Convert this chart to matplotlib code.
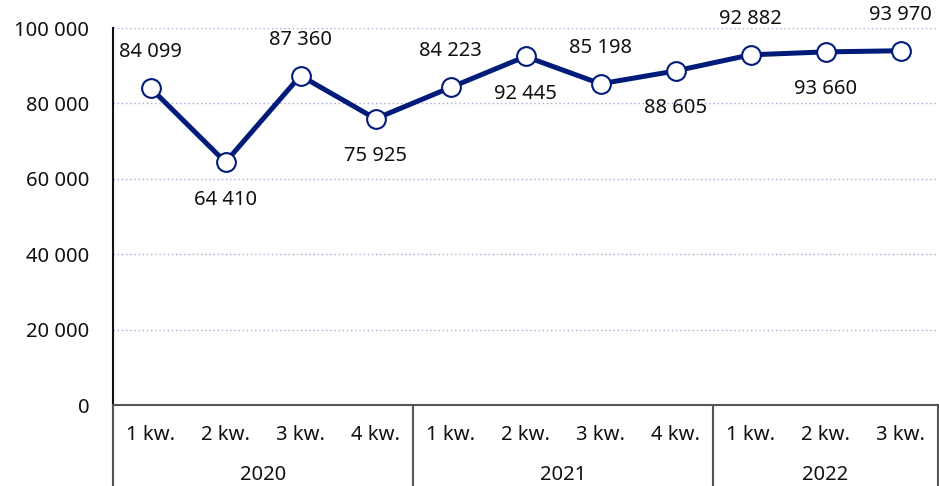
import matplotlib
matplotlib.use("Agg")
import matplotlib.pyplot as plt
from matplotlib.ticker import FuncFormatter

plt.rcParams["font.family"] = ["Noto Sans", "DejaVu Sans"]

quarters = ["1 kw.", "2 kw.", "3 kw.", "4 kw.",
            "1 kw.", "2 kw.", "3 kw.", "4 kw.",
            "1 kw.", "2 kw.", "3 kw."]
years = ["2020", "2021", "2022"]
quarters_per_year = [4, 4, 3]
values = [84099, 64410, 87360, 75925, 84223, 92445, 85198, 88605, 92882, 93660, 93970]
y_ticks = [0, 20000, 40000, 60000, 80000, 100000]

LINE_COLOR = "#001b7a"
AXIS_COLOR = "#555555"
FS = 14.5


def fmt_space(v, _pos=None):
    return f"{int(round(v)):,}".replace(",", " ")


fig = plt.figure(figsize=(9.39, 4.86), dpi=100)
ax = fig.add_axes([113 / 939, 81 / 486, 825 / 939, 377 / 486])

xs = list(range(len(values)))
ax.plot(xs, values, color=LINE_COLOR, linewidth=3.6, zorder=3,
        marker="o", markersize=13.5, markerfacecolor="white",
        markeredgecolor=LINE_COLOR, markeredgewidth=1.5, clip_on=False)

# data labels alternate above / below
for i, (x, v) in enumerate(zip(xs, values)):
    dy = 26 if i % 2 == 0 else -27
    ax.annotate(fmt_space(v), (x, v), xytext=(0, dy), textcoords="offset points",
                ha="center", va="center", fontsize=FS, color="#111111",
                annotation_clip=False)

ax.set_xlim(-0.5, len(values) - 0.5)
ax.set_ylim(0, 100000)
ax.set_yticks(y_ticks)
ax.yaxis.set_major_formatter(FuncFormatter(fmt_space))
ax.tick_params(axis="y", length=0, pad=17, labelsize=FS, labelcolor="#111111")
ax.set_xticks([])

for v in y_ticks[1:]:
    ax.axhline(v, color="#a8a8d8", linewidth=1.0, linestyle=(0, (1, 2)), zorder=1)

for side in ["top", "right"]:
    ax.spines[side].set_visible(False)
ax.spines["left"].set_color("#111111")
ax.spines["left"].set_linewidth(1.5)
ax.spines["bottom"].set_color(AXIS_COLOR)
ax.spines["bottom"].set_linewidth(1.5)

# multi-level category axis
tr = ax.get_xaxis_transform()
for x, q in zip(xs, quarters):
    ax.text(x, -0.08, q, transform=tr, ha="center", va="center",
            fontsize=FS, color="#111111")

start = 0
bounds = [-0.5]
for yr, n in zip(years, quarters_per_year):
    center = start + (n - 1) / 2
    ax.text(center, -0.186, yr, transform=tr, ha="center", va="center",
            fontsize=FS, color="#111111")
    start += n
    bounds.append(start - 0.5)

for b in bounds:
    ax.plot([b, b], [0, -0.3], transform=tr, color=AXIS_COLOR,
            linewidth=1.5, clip_on=False)

fig.savefig("out.png", dpi=100)
